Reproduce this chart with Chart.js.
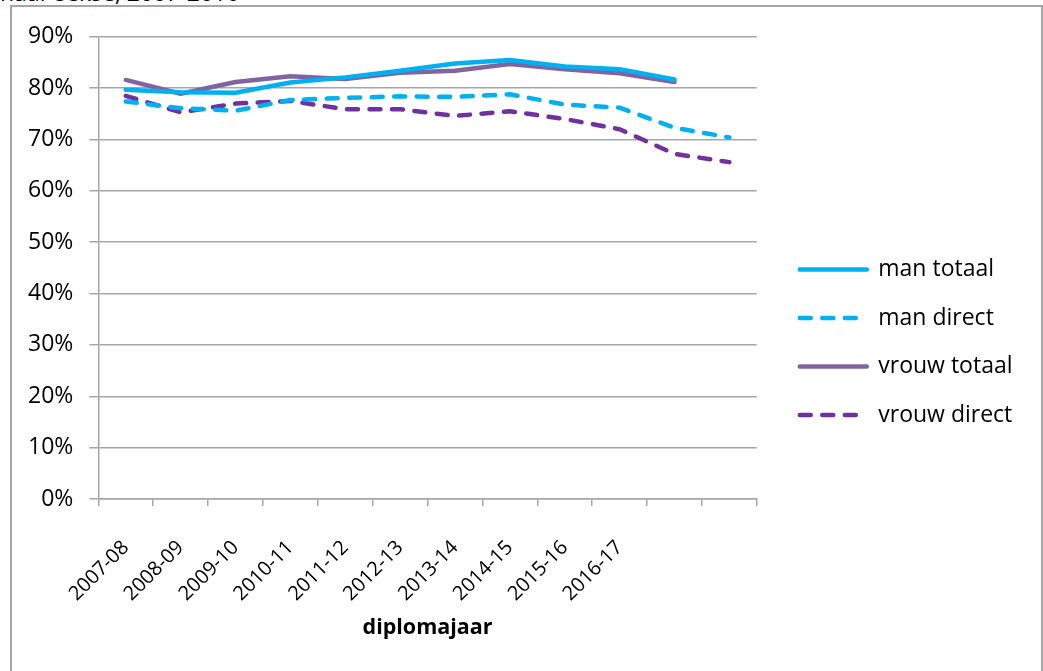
<!DOCTYPE html>
<html>
<head>
<meta charset="utf-8">
<script src="https://cdn.jsdelivr.net/npm/chart.js@4"></script>
<style>
    body { margin: 0; background: #fff; overflow: hidden; }
    #kop {
        position: absolute; left: 0; top: -23px;
        font-family: "Open Sans", sans-serif; font-size: 23px; line-height: 30px; color: #000;
        white-space: nowrap;
    }
    #kader {
        position: absolute; left: 10px; top: 5px; width: 1029px; height: 700px;
        border: 2px solid #a6a6a6; background: #fff;
    }
    #wrap { position: absolute; left: 0; top: 0; width: 1027px; height: 664px; }
</style>
</head>
<body>
<div id="kop">naar sekse, 2007-2016</div>
<div id="kader">
    <div id="wrap"><canvas id="grafiek"></canvas></div>
</div>
<script>
// diplomajaren (laatste twee zonder label)
var jaren = ["2007-08", "2008-09", "2009-10", "2010-11", "2011-12", "2012-13",
             "2013-14", "2014-15", "2015-16", "2016-17", "", ""];

// percentages
var manTotaal    = [79.7, 79.2, 79.1, 81.1, 82.1, 83.4, 84.8, 85.5, 84.2, 83.7, 81.7, null];
var manDirect    = [77.4, 76.1, 75.6, 77.7, 78.1, 78.4, 78.3, 78.8, 76.8, 76.2, 72.3, 70.4];
var vrouwTotaal  = [81.6, 78.9, 81.2, 82.3, 81.8, 83.0, 83.4, 84.7, 83.7, 82.9, 81.2, null];
var vrouwDirect  = [78.5, 75.3, 77.0, 77.5, 75.9, 75.9, 74.6, 75.5, 74.0, 72.0, 67.2, 65.6];

var yTicks = [0, 10, 20, 30, 40, 50, 60, 70, 80, 90];

var grijs = "#a6a6a6";
var lettertype = "'Open Sans', sans-serif";
var streep = [11, 11.5];

function lijn(label, data, kleur, gestreept) {
    return {
        label: label,
        data: data,
        borderColor: kleur,
        backgroundColor: kleur,
        borderWidth: 4.5,
        borderDash: gestreept ? streep : [],
        borderCapStyle: "round",
        borderJoinStyle: "round",
        pointRadius: 0,
        pointHoverRadius: 0,
        fill: false,
        tension: 0,
        spanGaps: false
    };
}

// legenda iets verder van het plotvlak zetten (zoals in Excel)
var legendaVerschuiven = {
    id: "legendaVerschuiven",
    afterLayout: function (chart) {
        var lg = chart.legend;
        if (!lg) return;
        var d = chart.chartArea.right + 43 - (lg.left + lg.options.labels.padding);
        lg.left += d;
        lg.right += d;
    }
};

new Chart(document.getElementById("grafiek"), {
    type: "line",
    data: {
        labels: jaren,
        datasets: [
            lijn("man totaal", manTotaal, "#00b0f0", false),
            lijn("man direct", manDirect, "#00b0f0", true),
            lijn("vrouw totaal", vrouwTotaal, "#8064a2", false),
            lijn("vrouw direct", vrouwDirect, "#7030a0", true)
        ]
    },
    plugins: [legendaVerschuiven],
    options: {
        responsive: true,
        maintainAspectRatio: false,
        animation: false,
        events: [],
        layout: { padding: { left: 0, top: 29, right: 34, bottom: 0 } },
        plugins: {
            tooltip: { enabled: false },
            legend: {
                position: "right",
                align: "start",
                title: { display: true, text: " ", padding: { top: 169, bottom: 0 }, font: { size: 23 } },
                labels: {
                    usePointStyle: true,
                    pointStyle: "line",
                    pointStyleWidth: 67,
                    padding: 25.5,
                    color: "#000",
                    font: { family: lettertype, size: 23 },
                    generateLabels: function (chart) {
                        return chart.data.datasets.map(function (ds, i) {
                            return {
                                text: ds.label,
                                datasetIndex: i,
                                pointStyle: "line",
                                fillStyle: ds.borderColor,
                                strokeStyle: ds.borderColor,
                                lineWidth: ds.borderWidth,
                                lineDash: ds.borderDash,
                                lineCap: "round",
                                fontColor: "#000",
                                hidden: false
                            };
                        });
                    }
                }
            }
        },
        scales: {
            x: {
                offset: true,
                grid: {
                    offset: true,
                    drawOnChartArea: false,
                    drawTicks: true,
                    tickLength: 7,
                    color: grijs,
                    lineWidth: 1.5
                },
                border: { color: grijs, width: 1.5 },
                ticks: {
                    autoSkip: false,
                    maxRotation: 45,
                    minRotation: 45,
                    padding: 30,
                    color: "#000",
                    font: { family: lettertype, size: 20 }
                },
                title: {
                    display: true,
                    text: "diplomajaar",
                    color: "#000",
                    padding: { top: 6, bottom: 30 },
                    font: { family: lettertype, size: 21.5, weight: "bold" }
                },
                afterFit: function (s) {
                    s.paddingLeft = 0;
                    s.paddingRight = 0;
                    s.height = 172; // hoogte van de x-as zoals in het origineel
                }
            },
            y: {
                min: 0,
                max: 90,
                afterBuildTicks: function (s) {
                    s.ticks = yTicks.map(function (v) { return { value: v }; });
                },
                grid: { color: grijs, lineWidth: 1.5, tickLength: 9 },
                border: { color: grijs, width: 1.5 },
                ticks: {
                    padding: 16,
                    color: "#000",
                    font: { family: lettertype, size: 23 },
                    callback: function (v) { return v + "%"; }
                }
            }
        }
    }
});
</script>
</body>
</html>
